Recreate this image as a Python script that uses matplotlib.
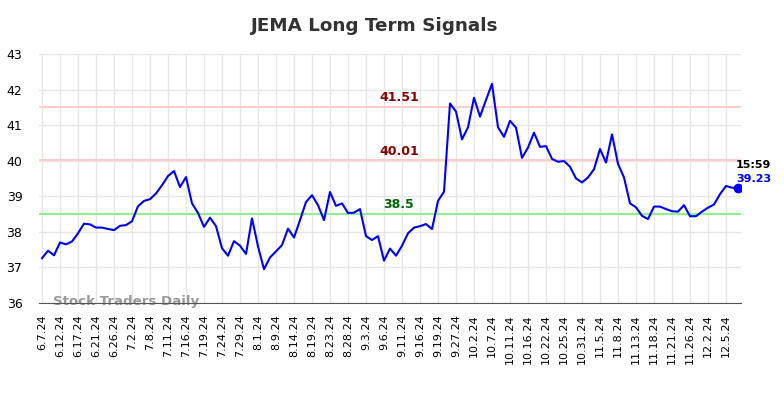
import numpy as np
import matplotlib
matplotlib.use('Agg')  # headless backend
import matplotlib.pyplot as plt

# ── data ───────────────────────────────────────────────────────────────────────
tick_labels = ['6.7.24', '6.12.24', '6.17.24', '6.21.24', '6.26.24', '7.2.24', '7.8.24',
               '7.11.24', '7.16.24', '7.19.24', '7.24.24', '7.29.24', '8.1.24', '8.9.24',
               '8.14.24', '8.19.24', '8.23.24', '8.28.24', '9.3.24', '9.6.24', '9.11.24',
               '9.16.24', '9.19.24', '9.27.24', '10.2.24', '10.7.24', '10.11.24',
               '10.16.24', '10.22.24', '10.25.24', '10.31.24', '11.5.24', '11.8.24',
               '11.13.24', '11.18.24', '11.21.24', '11.26.24', '12.2.24', '12.5.24']
tick_step = 3  # one labelled tick every 3 sessions

prices = [37.26, 37.47, 37.34, 37.70, 37.65, 37.73, 37.96, 38.23, 38.21, 38.12,
          38.12, 38.08, 38.05, 38.17, 38.19, 38.30, 38.72, 38.87, 38.92, 39.08,
          39.31, 39.57, 39.71, 39.26, 39.54, 38.80, 38.53, 38.14, 38.40, 38.16,
          37.54, 37.33, 37.74, 37.61, 37.38, 38.38, 37.59, 36.95, 37.28, 37.45,
          37.63, 38.09, 37.84, 38.33, 38.84, 39.03, 38.75, 38.33, 39.12, 38.73,
          38.80, 38.53, 38.54, 38.64, 37.88, 37.77, 37.88, 37.19, 37.53, 37.33,
          37.61, 37.96, 38.12, 38.16, 38.22, 38.08, 38.87, 39.13, 41.61, 41.38,
          40.60, 40.94, 41.77, 41.24, 41.71, 42.16, 40.94, 40.67, 41.12, 40.93,
          40.08, 40.37, 40.79, 40.39, 40.41, 40.05, 39.97, 39.99, 39.83, 39.50,
          39.39, 39.53, 39.76, 40.33, 39.95, 40.74, 39.91, 39.53, 38.80, 38.69,
          38.45, 38.36, 38.71, 38.71, 38.64, 38.58, 38.57, 38.75, 38.44, 38.44,
          38.57, 38.68, 38.77, 39.06, 39.29, 39.24, 39.23]

resistance_levels = [41.51, 40.01]
support_level = 38.5
last_time = '15:59'

# ── figure ─────────────────────────────────────────────────────────────────────
fig = plt.figure(figsize=(7.84, 3.98), dpi=100)
ax = fig.add_axes([39 / 784, 95 / 398, 702 / 784, 249 / 398])

x = np.arange(len(prices))

# signal levels
for lvl in resistance_levels:
    ax.axhline(lvl, color='#ffcccc', linewidth=1.5, zorder=1)
    ax.text(59.5, lvl + 0.08, f'{lvl:.2f}', color='#8b0000', fontsize=9,
            fontweight='bold', ha='center', va='bottom', zorder=4)
ax.axhline(support_level, color='#90ee90', linewidth=1.5, zorder=1)
ax.text(59.5, support_level + 0.08, f'{support_level}', color='#006400', fontsize=9,
        fontweight='bold', ha='center', va='bottom', zorder=4)

# price line + last point
ax.plot(x, prices, color='blue', linewidth=1.5, zorder=3)
ax.plot(x[-1], prices[-1], 'o', color='blue', markersize=6, zorder=5)
ax.annotate(last_time, (x[-1], prices[-1]), xytext=(-2, 23), textcoords='offset pixels',
            fontsize=8, fontweight='bold', color='black', ha='left', va='center')
ax.annotate(f'{prices[-1]:.2f}', (x[-1], prices[-1]), xytext=(-2, 9), textcoords='offset pixels',
            fontsize=8, fontweight='bold', color='blue', ha='left', va='center')

# watermark
ax.text(1.8, 36.05, 'Stock Traders Daily', color='#999999', fontsize=9.6,
        fontweight='bold', ha='left', va='center', zorder=2)

# axes cosmetics
ticks = np.arange(len(tick_labels)) * tick_step
ax.set_xticks(ticks)
ax.set_xticklabels(tick_labels, rotation=90, fontsize=8)
ax.set_yticks(np.arange(36, 44))
ax.tick_params(axis='y', labelsize=9, length=0, pad=12)
ax.tick_params(axis='x', length=0, pad=8)
ax.set_xlim(-0.5, 116.5)
ax.set_ylim(36, 43)
ax.grid(True, color='#e6e6e6', linewidth=1)
ax.set_axisbelow(True)
for side in ('top', 'right', 'left'):
    ax.spines[side].set_visible(False)
ax.spines['bottom'].set_color('#555555')

fig.suptitle('JEMA Long Term Signals', x=374 / 784, y=1 - 26 / 398, va='center',
             fontsize=13.2, fontweight='bold', color='#333333')

fig.savefig('out.png', dpi=100)
plt.close(fig)
